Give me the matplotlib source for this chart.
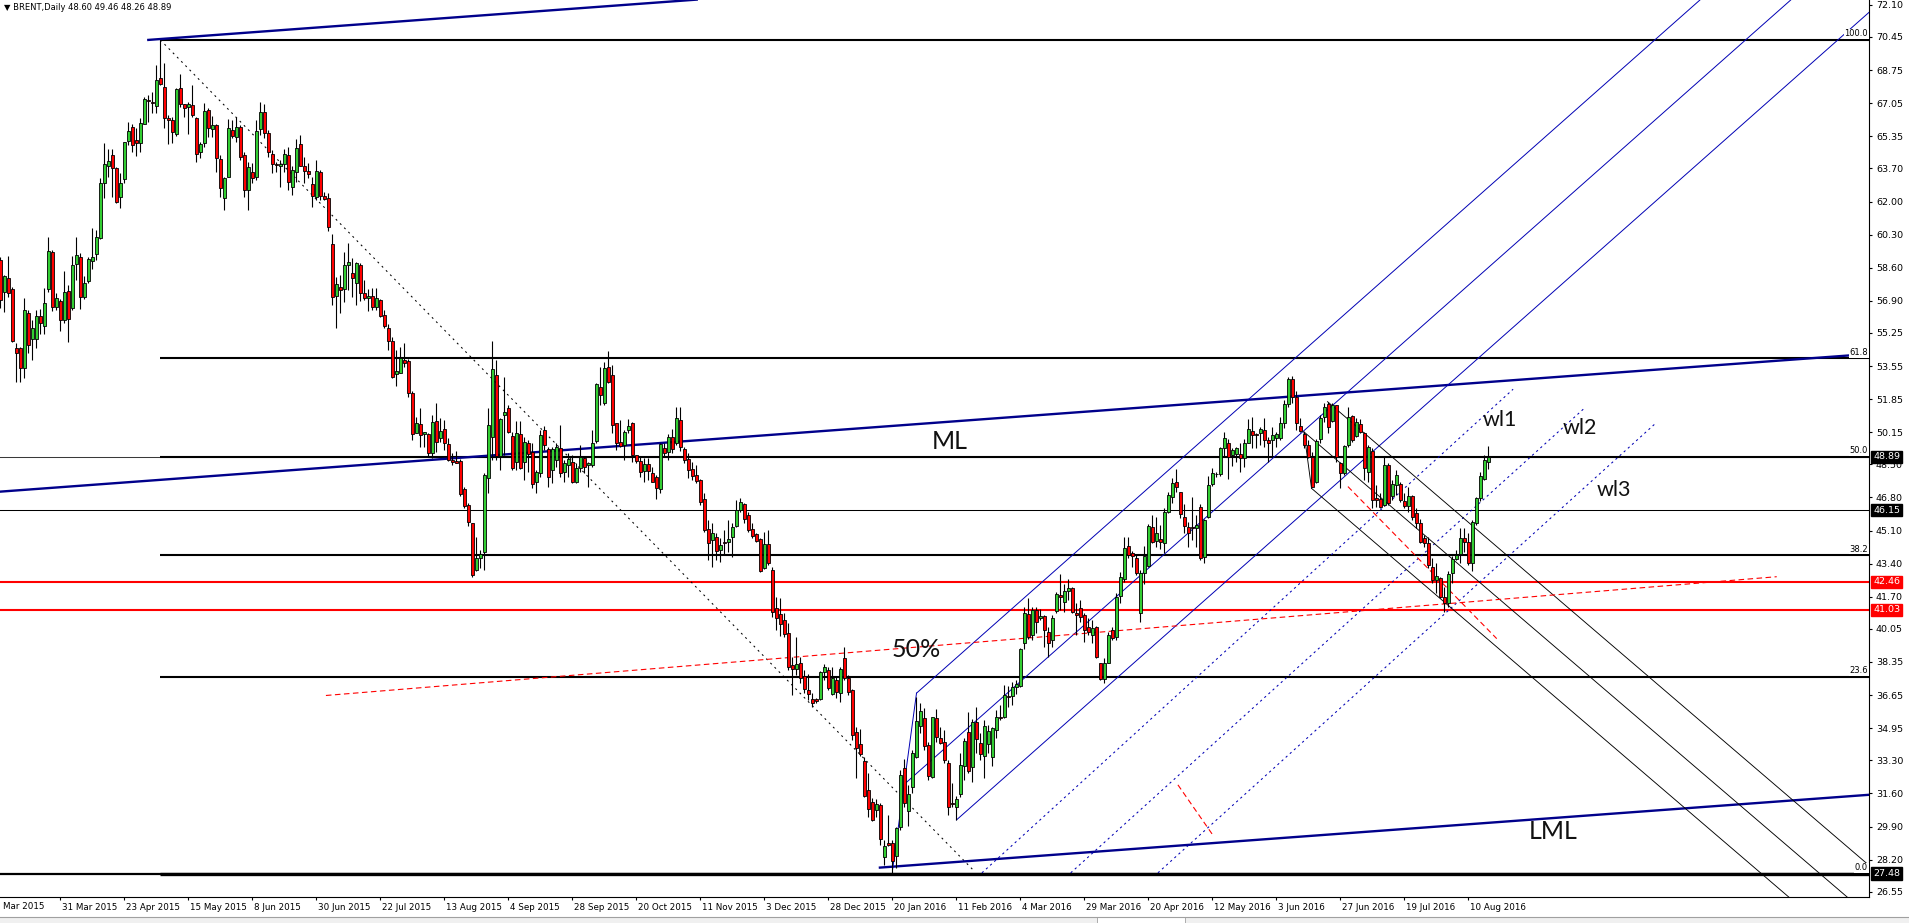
import matplotlib
matplotlib.use("Agg")
import matplotlib.pyplot as plt
import matplotlib.transforms as mtransforms
from matplotlib.patches import Rectangle

plt.rcParams['lines.scale_dashes'] = False
plt.rcParams['font.family'] = ['DejaVu Sans']

# BRENT daily bars, bar 0 ~ 10 Mar 2015 ... bar 372 ~ 17 Aug 2016
opens = [
    59.00, 57.37, 58.06, 57.50, 54.46, 54.46, 53.44, 56.26, 54.92, 54.92,
    56.12, 55.60, 57.50, 59.41, 56.57, 56.91, 55.92, 57.42, 56.52, 58.77,
    59.17, 57.08, 57.94, 58.93, 59.29, 60.15, 62.97, 63.83, 64.38, 63.74,
    62.22, 63.14, 65.11, 65.81, 65.16, 64.99, 65.98, 67.22, 67.13, 66.91,
    68.33, 67.90, 66.28, 66.19, 65.47, 67.82, 67.01, 66.84, 66.96, 66.28,
    64.56, 64.99, 66.70, 65.75, 65.92, 64.17, 62.19, 63.28, 65.68, 65.30,
    65.85, 64.39, 62.60, 63.50, 63.25, 65.70, 66.60, 65.54, 64.44, 63.93,
    63.80, 63.93, 64.39, 62.77, 63.54, 64.96, 63.84, 63.59, 62.90, 62.25,
    63.54, 62.29, 62.17, 59.82, 57.17, 57.60, 57.49, 58.74, 58.31, 57.84,
    58.74, 57.29, 57.03, 57.15, 56.57, 56.95, 56.16, 55.49, 54.86, 53.14,
    53.18, 53.86, 53.83, 52.15, 50.13, 50.58, 50.06, 50.06, 49.07, 50.75,
    49.84, 50.30, 49.55, 48.73, 48.69, 48.69, 47.22, 46.42, 45.47, 43.08,
    43.68, 44.02, 47.79, 49.93, 53.09, 48.93, 51.06, 51.38, 49.96, 48.64,
    50.06, 48.64, 49.58, 49.11, 47.62, 48.04, 50.27, 49.28, 48.21, 48.73,
    49.33, 48.13, 48.47, 48.64, 47.61, 48.30, 48.85, 48.47, 48.47, 49.72,
    52.49, 51.64, 53.52, 53.09, 50.61, 49.64, 49.50, 50.27, 50.61, 48.98,
    48.68, 48.18, 48.50, 48.04, 47.87, 47.22, 49.33, 49.16, 49.89, 49.58,
    50.78, 49.28, 48.76, 48.25, 47.94, 47.70, 46.71, 45.17, 44.62, 44.79,
    44.10, 44.51, 44.51, 44.75, 45.34, 46.16, 46.47, 45.90, 45.17, 44.92,
    44.65, 43.17, 44.41, 43.08, 41.11, 40.82, 40.51, 39.82, 38.20, 37.99,
    38.28, 37.63, 36.91, 36.43, 36.43, 36.44, 37.86, 37.94, 36.71, 37.43,
    36.75, 38.54, 37.51, 36.91, 34.76, 34.12, 33.28, 31.78, 31.14, 30.75,
    31.01, 28.32, 29.03, 29.04, 28.39, 29.86, 32.89, 30.72, 31.92, 33.46,
    35.06, 35.46, 34.09, 32.43, 35.46, 34.43, 34.26, 33.18, 31.10, 30.92,
    31.57, 33.01, 34.77, 32.94, 35.29, 34.21, 33.53, 34.14, 33.49, 34.86,
    35.52, 35.51, 36.58, 36.61, 37.09, 37.12, 39.31, 40.80, 39.74, 41.03,
    40.59, 40.71, 39.91, 39.48, 40.99, 41.80, 41.45, 42.02, 42.14, 40.85,
    41.11, 40.77, 40.13, 39.74, 40.13, 38.32, 37.46, 38.32, 40.00, 39.62,
    41.74, 42.60, 44.31, 43.94, 43.68, 40.85, 42.94, 43.28, 45.30, 44.58,
    44.65, 44.45, 46.07, 46.81, 47.58, 47.07, 45.82, 45.27, 45.30, 45.22,
    46.30, 43.76, 45.78, 47.50, 48.00, 48.01, 49.33, 49.62, 48.99, 49.04,
    49.04, 48.81, 49.62, 50.23, 50.05, 50.10, 50.27, 49.75, 49.75, 49.84,
    49.84, 50.61, 51.61, 52.87, 51.98, 50.47, 50.06, 49.50, 48.87, 47.61,
    49.79, 50.92, 51.60, 50.75, 51.55, 48.56, 48.08, 49.50, 50.99, 49.96,
    50.56, 50.13, 48.13, 49.21, 46.76, 46.71, 46.42, 48.47, 46.88, 47.44,
    47.50, 46.64, 46.37, 46.88, 45.99, 45.51, 44.70, 44.45, 43.25, 42.56,
    42.65, 41.71, 41.40, 42.91, 43.62, 43.90, 44.70, 44.53, 43.42, 45.51,
    46.76, 47.74, 48.60]
highs = [
    59.17, 58.23, 59.20, 57.63, 54.72, 54.55, 57.03, 56.43, 55.92, 56.43,
    56.46, 57.58, 60.16, 59.51, 57.29, 56.98, 58.45, 57.71, 59.20, 60.16,
    59.34, 58.18, 59.17, 60.63, 60.54, 63.20, 64.99, 64.68, 64.68, 63.79,
    63.48, 65.08, 66.10, 65.98, 65.76, 66.28, 67.39, 67.47, 67.65, 69.02,
    70.30, 69.10, 66.45, 66.33, 67.82, 68.55, 67.01, 67.13, 67.99, 66.33,
    65.08, 67.08, 66.79, 66.40, 65.98, 64.39, 63.28, 66.22, 66.19, 66.36,
    65.93, 64.56, 64.05, 63.96, 66.19, 67.10, 67.00, 65.68, 64.65, 64.05,
    64.14, 64.68, 64.82, 63.80, 65.20, 65.42, 64.27, 63.96, 63.28, 64.14,
    63.60, 62.51, 62.46, 60.34, 58.14, 58.23, 59.43, 59.86, 59.08, 58.91,
    58.83, 57.97, 57.49, 57.54, 57.54, 56.98, 56.43, 55.71, 55.06, 54.38,
    54.55, 54.72, 53.90, 52.29, 50.95, 51.38, 50.18, 50.10, 51.04, 51.64,
    50.87, 50.78, 49.84, 49.07, 49.21, 48.76, 47.36, 46.50, 45.47, 44.79,
    44.10, 48.08, 51.38, 54.84, 53.86, 50.87, 53.01, 51.55, 50.18, 50.75,
    50.75, 49.89, 49.75, 49.58, 48.21, 50.27, 50.47, 49.38, 49.41, 49.58,
    50.53, 48.73, 49.07, 48.98, 48.56, 49.50, 48.90, 48.64, 50.27, 52.67,
    53.52, 53.78, 54.34, 53.61, 50.65, 50.78, 50.27, 50.82, 50.70, 48.98,
    48.87, 48.81, 48.81, 48.38, 47.96, 49.58, 49.62, 50.06, 50.30, 51.47,
    51.43, 49.41, 49.07, 48.64, 48.47, 47.73, 47.05, 45.65, 45.47, 44.96,
    44.70, 45.13, 45.65, 45.47, 46.67, 46.76, 46.50, 46.07, 45.47, 44.99,
    44.70, 45.05, 45.13, 43.25, 41.67, 41.62, 40.85, 40.34, 38.63, 39.65,
    38.63, 37.94, 37.74, 36.78, 36.49, 37.91, 38.25, 38.11, 38.11, 37.60,
    38.11, 39.14, 37.69, 36.95, 34.99, 34.90, 33.49, 32.63, 31.35, 31.30,
    31.09, 29.21, 30.49, 29.21, 29.90, 32.80, 33.35, 32.03, 33.83, 36.57,
    36.23, 35.97, 34.26, 35.55, 35.92, 35.03, 34.86, 33.32, 32.12, 31.47,
    33.70, 34.43, 35.80, 35.41, 36.06, 34.69, 35.37, 35.12, 35.03, 35.89,
    36.14, 37.17, 37.12, 37.34, 37.40, 39.05, 41.16, 41.62, 41.20, 41.20,
    41.06, 40.77, 40.17, 40.77, 41.97, 42.87, 42.36, 42.60, 42.22, 41.40,
    41.54, 40.85, 40.60, 40.51, 40.20, 38.32, 38.54, 39.91, 40.17, 41.91,
    42.99, 44.79, 44.79, 44.07, 43.90, 43.08, 44.31, 45.44, 45.90, 45.82,
    45.39, 46.25, 47.10, 47.79, 48.25, 47.10, 46.47, 45.56, 46.81, 45.90,
    46.47, 45.68, 47.91, 48.30, 48.13, 49.41, 50.18, 49.79, 49.33, 49.41,
    49.58, 49.79, 50.82, 50.92, 50.10, 50.44, 50.87, 49.93, 50.44, 50.18,
    50.92, 51.81, 53.01, 53.04, 52.29, 50.87, 50.18, 49.75, 49.16, 49.79,
    51.04, 51.64, 51.72, 51.64, 51.55, 48.64, 49.50, 51.43, 51.04, 50.87,
    50.82, 50.18, 49.50, 49.33, 47.44, 47.02, 48.90, 48.56, 47.70, 48.21,
    47.61, 47.02, 47.36, 46.93, 46.25, 45.68, 44.87, 44.79, 43.68, 43.42,
    42.74, 42.22, 43.04, 43.80, 44.10, 45.22, 45.22, 44.96, 45.65, 46.84,
    48.13, 48.98, 49.46]
lows = [
    56.52, 56.30, 57.10, 54.80, 52.75, 52.75, 52.92, 54.20, 53.86, 54.50,
    55.20, 55.20, 57.37, 56.40, 56.43, 55.37, 55.75, 54.80, 56.43, 57.97,
    56.46, 56.98, 57.80, 58.52, 59.00, 60.08, 62.17, 63.28, 62.25, 61.91,
    61.65, 62.94, 64.90, 64.56, 64.36, 64.56, 65.98, 66.10, 66.53, 66.53,
    67.99, 65.76, 64.96, 64.99, 65.37, 66.88, 66.33, 65.47, 66.33, 64.05,
    64.22, 64.79, 65.30, 65.30, 63.54, 62.25, 61.57, 63.28, 65.25, 65.08,
    64.14, 62.25, 61.57, 62.94, 63.11, 65.40, 65.25, 64.27, 63.45, 63.54,
    62.77, 63.54, 62.60, 62.34, 63.02, 63.82, 62.94, 63.19, 61.70, 62.08,
    62.08, 62.08, 60.51, 56.69, 55.49, 56.26, 56.86, 57.46, 57.12, 56.69,
    56.91, 56.95, 56.40, 56.43, 56.43, 56.05, 55.49, 54.38, 52.92, 52.50,
    53.18, 53.52, 51.98, 49.75, 50.10, 49.41, 49.41, 48.90, 48.81, 49.16,
    49.67, 49.24, 48.69, 48.47, 48.56, 46.88, 46.25, 45.34, 42.70, 43.00,
    43.16, 43.08, 47.05, 48.73, 48.70, 48.20, 48.98, 50.10, 48.21, 48.21,
    48.25, 47.70, 48.13, 47.27, 47.05, 47.87, 49.24, 47.36, 47.56, 48.38,
    47.87, 47.62, 47.87, 47.53, 47.53, 48.13, 48.08, 47.36, 48.38, 49.58,
    51.55, 51.55, 52.67, 50.10, 49.24, 49.38, 48.73, 50.10, 48.64, 48.56,
    47.87, 47.61, 47.70, 47.61, 46.71, 47.02, 48.90, 48.73, 49.07, 49.50,
    49.21, 48.56, 47.79, 47.70, 47.53, 46.42, 45.05, 43.59, 43.21, 43.59,
    43.50, 43.85, 44.02, 43.76, 45.30, 46.07, 45.47, 45.05, 44.70, 44.53,
    42.99, 43.11, 43.34, 40.68, 39.99, 39.69, 39.65, 37.94, 36.66, 37.69,
    37.26, 36.75, 36.40, 36.06, 36.23, 36.40, 37.43, 36.91, 36.66, 36.49,
    36.27, 37.43, 36.66, 34.35, 32.38, 33.52, 31.40, 30.41, 30.20, 30.41,
    28.95, 27.93, 28.90, 27.48, 27.76, 29.72, 30.92, 29.93, 31.61, 33.40,
    34.69, 33.83, 32.29, 32.38, 34.26, 34.14, 33.15, 30.50, 30.92, 30.24,
    31.44, 32.29, 32.63, 32.21, 33.66, 33.32, 32.38, 33.66, 33.01, 34.43,
    35.37, 35.46, 36.06, 36.14, 36.70, 37.09, 39.00, 39.52, 39.48, 39.82,
    40.51, 39.14, 38.63, 39.14, 40.85, 41.02, 40.94, 41.54, 40.85, 39.74,
    40.42, 39.40, 39.74, 39.31, 38.54, 37.43, 37.26, 38.28, 39.48, 39.48,
    41.37, 42.48, 43.68, 43.25, 42.82, 40.42, 42.36, 43.21, 44.45, 44.28,
    44.14, 43.94, 45.99, 46.54, 47.10, 45.73, 44.96, 44.24, 44.62, 44.28,
    43.59, 43.45, 45.73, 47.39, 47.87, 47.91, 48.87, 47.74, 48.42, 48.64,
    48.13, 48.35, 49.58, 49.33, 49.33, 49.50, 49.41, 48.64, 48.90, 49.38,
    49.75, 50.35, 51.47, 51.64, 50.27, 50.18, 49.33, 48.81, 47.33, 47.53,
    49.58, 50.70, 50.10, 50.70, 48.64, 47.27, 47.96, 49.41, 49.67, 49.93,
    50.10, 47.70, 47.61, 46.25, 46.33, 46.25, 46.36, 46.42, 46.67, 46.93,
    46.59, 46.25, 46.07, 45.65, 45.22, 44.45, 44.28, 43.16, 42.39, 41.88,
    41.62, 40.94, 41.20, 42.39, 43.59, 43.42, 44.02, 43.34, 43.04, 45.39,
    46.64, 47.70, 48.26]
closes = [
    56.95, 58.18, 57.29, 54.86, 54.24, 53.44, 56.43, 54.64, 55.49, 56.12,
    55.75, 56.77, 59.46, 56.60, 57.03, 55.92, 57.37, 55.95, 58.73, 59.24,
    57.08, 57.84, 59.03, 59.14, 60.16, 62.94, 63.91, 64.08, 63.71, 62.00,
    62.97, 65.04, 65.63, 64.89, 64.99, 66.02, 67.25, 67.15, 67.05, 68.24,
    68.04, 66.28, 66.19, 65.59, 67.77, 67.01, 66.79, 67.01, 66.45, 64.43,
    64.94, 66.65, 65.76, 65.92, 64.22, 62.68, 63.20, 65.76, 65.37, 65.81,
    64.27, 62.60, 63.79, 63.20, 65.62, 66.60, 65.50, 64.56, 63.93, 63.86,
    63.93, 64.44, 63.02, 63.62, 64.74, 63.84, 63.59, 63.42, 62.29, 63.57,
    62.29, 62.12, 60.71, 57.08, 57.77, 57.46, 58.74, 58.90, 58.09, 58.83,
    57.32, 57.03, 57.15, 56.57, 57.03, 56.12, 55.61, 54.86, 53.01, 53.32,
    53.95, 53.69, 52.19, 50.06, 50.61, 50.01, 50.16, 49.07, 50.70, 49.67,
    50.23, 49.62, 48.73, 48.64, 48.59, 46.98, 46.36, 45.56, 42.82, 43.68,
    43.88, 47.96, 50.53, 53.38, 48.93, 50.82, 51.21, 50.18, 48.30, 50.10,
    48.30, 49.63, 49.04, 47.50, 48.13, 50.01, 49.50, 47.87, 49.28, 49.41,
    48.04, 48.56, 48.78, 47.61, 48.33, 48.90, 48.35, 48.59, 49.62, 52.61,
    52.07, 53.47, 52.75, 50.53, 49.62, 49.45, 50.18, 50.47, 48.98, 48.69,
    48.13, 48.52, 48.18, 47.61, 47.27, 49.55, 49.07, 49.89, 49.28, 50.87,
    49.38, 48.73, 48.21, 47.91, 47.67, 46.59, 45.13, 44.48, 44.96, 44.07,
    44.36, 44.45, 44.65, 45.30, 46.16, 46.59, 45.68, 45.13, 44.82, 44.58,
    43.04, 44.41, 43.42, 40.94, 40.60, 40.30, 39.79, 38.11, 37.98, 38.25,
    37.51, 36.95, 36.71, 36.23, 36.37, 37.86, 38.08, 37.00, 37.51, 36.83,
    37.98, 37.51, 36.83, 34.60, 33.92, 33.63, 31.47, 30.79, 30.24, 31.06,
    29.25, 28.90, 28.95, 28.15, 29.81, 32.55, 31.13, 31.57, 33.66, 35.32,
    35.85, 34.04, 32.51, 35.51, 34.48, 34.21, 33.32, 30.89, 31.07, 31.30,
    33.06, 34.31, 32.77, 35.29, 34.38, 33.63, 35.07, 34.83, 34.95, 35.55,
    35.46, 36.66, 36.55, 37.09, 37.20, 39.00, 40.85, 39.62, 41.03, 40.42,
    40.71, 40.00, 39.31, 40.60, 41.83, 41.71, 42.00, 42.14, 40.94, 40.77,
    40.68, 40.00, 39.91, 40.08, 38.59, 37.46, 38.32, 39.74, 39.60, 41.71,
    42.74, 44.19, 43.85, 43.80, 42.94, 42.94, 43.80, 45.34, 44.53, 44.99,
    44.53, 46.07, 46.93, 47.53, 47.36, 45.95, 45.34, 44.99, 45.25, 45.39,
    43.68, 45.65, 47.44, 48.08, 47.98, 49.33, 49.84, 48.87, 49.24, 49.33,
    48.81, 49.62, 50.30, 50.01, 50.00, 50.30, 49.75, 49.58, 49.99, 50.06,
    50.61, 51.61, 52.87, 51.98, 50.61, 50.21, 49.50, 48.87, 47.36, 49.72,
    50.87, 51.43, 50.44, 51.55, 48.90, 48.04, 49.45, 50.92, 49.75, 50.70,
    50.18, 48.30, 49.41, 46.67, 46.67, 46.33, 48.47, 46.54, 47.50, 47.96,
    46.67, 46.37, 46.88, 45.78, 45.51, 44.53, 44.45, 43.34, 42.56, 42.77,
    41.71, 41.37, 42.87, 43.62, 43.85, 44.70, 44.53, 43.42, 45.56, 46.76,
    47.91, 48.73, 48.89]
assert len(opens) == len(highs) == len(lows) == len(closes) == 373

price_ticks = [72.10, 70.45, 68.75, 67.05, 65.35, 63.70, 62.00, 60.30, 58.60,
               56.90, 55.25, 53.55, 51.85, 50.15, 48.50, 46.80, 45.10, 43.40,
               41.70, 40.05, 38.35, 36.65, 34.95, 33.30, 31.60, 29.90, 28.20, 26.55]
# first date label is only partly visible at the left edge in the terminal
date_labels = ['Mar 2015', '31 Mar 2015', '23 Apr 2015', '15 May 2015', '8 Jun 2015',
               '30 Jun 2015', '22 Jul 2015', '13 Aug 2015', '4 Sep 2015', '28 Sep 2015',
               '20 Oct 2015', '11 Nov 2015', '3 Dec 2015', '28 Dec 2015', '20 Jan 2016',
               '11 Feb 2016', '4 Mar 2016', '29 Mar 2016', '20 Apr 2016', '12 May 2016',
               '3 Jun 2016', '27 Jun 2016', '19 Jul 2016', '10 Aug 2016']
date_bars = [0.6, 15, 31, 47, 63, 79, 95, 111, 127, 143, 159, 175, 191, 207, 223,
             239, 255, 271, 287, 303, 319, 335, 351, 367]

# fibonacci retracement (peak bar 40 -> low 27.48)
fib_levels = [70.30, 53.94, 48.89, 43.84, 37.59, 27.48]
fib_names = ['100.0', '61.8', '50.0', '38.2', '23.6', '0.0']
fib_start = 40
fib_trend = (40, 70.30, 243.2, 27.67)

# horizontal lines and price boxes on the right scale
bid_price = 48.89
level_black = [46.15, 27.48]
level_red = [42.46, 41.03]
box_values = [48.89, 46.15, 42.46, 41.03, 27.48]
box_colors = ['black', 'black', 'red', 'red', 'black']

# drawn objects: (bar0, price0, bar1, price1)
navy_lines = [(37.0, 70.30, 174.1, 72.37), (0.0, 47.10, 467.2, 54.17),
              (219.9, 27.79, 467.2, 31.53)]
fork_lines = [(229.05, 36.75, 424.9, 72.35), (226.1, 32.09, 447.6, 72.35),
              (239.05, 30.24, 467.2, 71.72), (223.05, 27.67, 229.05, 36.75)]
warn_lines = [(245.4, 27.52, 378.2, 52.36), (267.6, 27.52, 396.1, 51.40),
              (289.4, 27.52, 414.1, 50.66)]
down_lines = [(331.8, 51.72, 467.2, 27.90), (325.9, 50.17, 461.7, 26.28),
              (327.8, 47.27, 447.1, 26.28), (325.9, 50.17, 327.8, 47.27)]
red_dash = [(81.4, 36.63, 444.1, 42.73), (336.9, 47.36, 374.1, 39.55),
            (294.4, 32.04, 303.1, 29.47)]

notes = ['ML', '50%', 'wl1', 'wl2', 'wl3', 'LML']
note_x = [232.9, 222.8, 370.7, 390.7, 399.1, 382.0]
note_y = [49.30, 38.63, 50.47, 50.06, 46.88, 29.25]
note_size = [18, 18, 15.5, 15.5, 15.5, 18]

W, H = 1909, 923
fig = plt.figure(figsize=(W / 100, H / 100), dpi=100)
ax = fig.add_axes([0, 1 - 897 / H, 1869 / W, 897 / H])
ax.set_xlim(-0.08, 467.17)
ax.set_ylim(26.28, 72.35)

# horizontal levels
ax.axhline(bid_price, color='#3a3a3a', lw=0.75, zorder=2)
for lv in level_black:
    ax.axhline(lv, color='black', lw=0.75 if lv != 27.48 else 1.6, zorder=2)
for lv in level_red:
    ax.axhline(lv, color='#ff0000', lw=1.5, zorder=2)

for lv, nm in zip(fib_levels, fib_names):
    ax.plot([fib_start, 470], [lv, lv], color='black', lw=1.5 if lv != 27.48 else 2.4,
            solid_capstyle='butt', zorder=2)
    tr = mtransforms.blended_transform_factory(ax.transAxes, ax.transData)
    ax.text(0.9995, lv, nm, transform=mtransforms.offset_copy(tr, fig=fig, y=1.5, units='dots'),
            ha='right', va='bottom', fontsize=6, color='black', zorder=6,
            bbox=dict(facecolor='white', edgecolor='none', pad=0.4))

ax.plot(fib_trend[::2], fib_trend[1::2], color='black', lw=0.75,
        dashes=(1.4, 2.9), zorder=2)

for x0, y0, x1, y1 in navy_lines:
    ax.plot([x0, x1], [y0, y1], color='#00008b', lw=1.7, zorder=3)
for x0, y0, x1, y1 in fork_lines:
    ax.plot([x0, x1], [y0, y1], color='#0000b4', lw=0.7, zorder=3)
for x0, y0, x1, y1 in warn_lines:
    ax.plot([x0, x1], [y0, y1], color='#0000b4', lw=0.75, dashes=(1.6, 2.4), zorder=3)
for x0, y0, x1, y1 in down_lines:
    ax.plot([x0, x1], [y0, y1], color='black', lw=0.65, zorder=3)
for x0, y0, x1, y1 in red_dash:
    ax.plot([x0, x1], [y0, y1], color='#ff0000', lw=0.8, dashes=(4.0, 2.5), zorder=3)

# candles
xs = list(range(len(opens)))
ax.vlines(xs, lows, highs, color='black', lw=0.8, zorder=4)
bottoms = [min(o, c) for o, c in zip(opens, closes)]
heights = [max(abs(c - o), 0.05) for o, c in zip(opens, closes)]
colors = ['#32cd32' if c > o else ('#ff0000' if c < o else 'black')
          for o, c in zip(opens, closes)]
ax.bar(xs, heights, bottom=bottoms, width=0.62, color=colors, edgecolor='black',
       linewidth=0.6, zorder=5)

for txt, x, y, fs in zip(notes, note_x, note_y, note_size):
    ax.text(x, y, txt, fontsize=fs, family='Lato', color='#111111', ha='left',
            va='baseline', zorder=7)

# axes frame
for side in ['left', 'top']:
    ax.spines[side].set_visible(False)
for side in ['right', 'bottom']:
    ax.spines[side].set_linewidth(0.8)
    ax.spines[side].set_color('black')

ax.yaxis.tick_right()
ax.set_yticks(price_ticks)
ax.set_yticklabels(['%.2f' % v for v in price_ticks])
ax.tick_params(axis='y', length=2.5, width=0.8, labelsize=6.8, pad=2.5, colors='black')

ax.set_xticks(date_bars[1:])
ax.set_xticklabels(date_labels[1:], ha='left')
ax.tick_params(axis='x', length=2.5, width=0.8, labelsize=6.3, pad=1.5)
shift = mtransforms.ScaledTranslation(1.5 / 100, 0, fig.dpi_scale_trans)
for lbl in ax.get_xticklabels():
    lbl.set_transform(lbl.get_transform() + shift)
xtr = mtransforms.blended_transform_factory(ax.transData, ax.transAxes)
ax.text(date_bars[0], 0, date_labels[0],
        transform=mtransforms.offset_copy(xtr, fig=fig, x=0, y=-5.2, units='dots'),
        ha='left', va='top', fontsize=6.3, clip_on=False)

# price boxes on the scale
ytr = mtransforms.blended_transform_factory(ax.transAxes, ax.transData)
for v, col in zip(box_values, box_colors):
    ax.text(1.0, v, '%.2f' % v, transform=mtransforms.offset_copy(ytr, fig=fig, x=4, units='dots'),
            ha='left', va='center', fontsize=6.8, color='white', clip_on=False, zorder=10,
            bbox=dict(facecolor=col, edgecolor=col, pad=1.2))

# symbol caption
ax.text(0.002, 0.997, '\u25bc BRENT,Daily 48.60 49.46 48.26 48.89', transform=ax.transAxes,
        ha='left', va='top', fontsize=6.0, color='black', zorder=8)

# bottom tab strip
fig.patches.append(Rectangle((0, 0), 1, 6.5 / H, transform=fig.transFigure,
                             facecolor='#f0f0f0', edgecolor='none'))
fig.lines.append(plt.Line2D([0, 1], [6.5 / H, 6.5 / H], transform=fig.transFigure,
                            color='#a0a0a0', lw=0.8))
fig.patches.append(Rectangle((1097 / W, 0), 88 / W, 6.5 / H, transform=fig.transFigure,
                             facecolor='white', edgecolor='#a0a0a0', lw=0.6))

fig.savefig('out.png', dpi=100, facecolor='white')
